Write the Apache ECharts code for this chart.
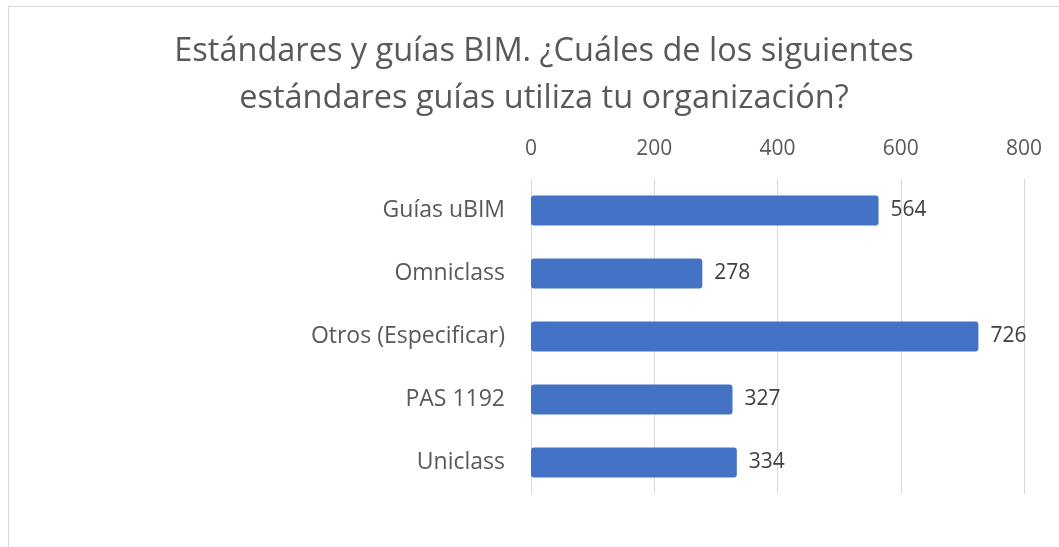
<!DOCTYPE html>
<html>
<head>
<meta charset="utf-8">
<script src="https://cdn.jsdelivr.net/npm/echarts@6/dist/echarts.min.js"></script>
<style>
  html, body { margin: 0; padding: 0; background: #fff; }
  #chart { width: 1059px; height: 547px; }
</style>
</head>
<body>
<div id="chart"></div>
<script>
// Survey answers: which BIM standards/guides the organisation uses
const categories = ['Guías uBIM', 'Omniclass', 'Otros (Especificar)', 'PAS 1192', 'Uniclass'];
const counts = [564, 278, 726, 327, 334];
const axisTicks = [0, 200, 400, 600, 800];

const font = 'Open Sans, Noto Sans, sans-serif';
const chart = echarts.init(document.getElementById('chart'));

chart.setOption({
  animation: false,
  backgroundColor: '#ffffff',
  title: {
    text: 'Estándares y guías BIM. ¿Cuáles de los siguientes\nestándares guías utiliza tu organización?',
    left: 539,
    textAlign: 'center',
    top: 23,
    textStyle: {
      fontFamily: font,
      fontSize: 32.5,
      fontWeight: 'normal',
      color: '#595959',
      lineHeight: 47
    }
  },
  graphic: [{
    type: 'rect',
    shape: { x: 8.5, y: 6.5, width: 1100, height: 600 },
    style: { fill: 'none', stroke: '#d9d9d9', lineWidth: 1 },
    silent: true
  }],
  grid: { left: 531, right: 35, top: 179, bottom: 53 },
  xAxis: {
    type: 'value',
    position: 'top',
    min: axisTicks[0],
    max: axisTicks[axisTicks.length - 1],
    interval: axisTicks[1] - axisTicks[0],
    axisLine: { show: false },
    axisTick: { show: false },
    axisLabel: { fontFamily: font, fontSize: 21, color: '#595959', margin: 19 },
    splitLine: { lineStyle: { color: '#d9d9d9', width: 1 } }
  },
  yAxis: {
    type: 'category',
    inverse: true,
    data: categories,
    axisLine: { show: true, lineStyle: { color: '#d9d9d9' } },
    axisTick: { show: false },
    axisLabel: { fontFamily: font, fontSize: 23, color: '#595959', margin: 26 }
  },
  series: [{
    type: 'bar',
    data: counts,
    barWidth: 30,
    itemStyle: { color: '#4472c4', borderRadius: 3 },
    label: {
      show: true,
      position: 'right',
      distance: 12,
      fontFamily: font,
      fontSize: 21,
      color: '#404040'
    }
  }]
});
</script>
</body>
</html>
